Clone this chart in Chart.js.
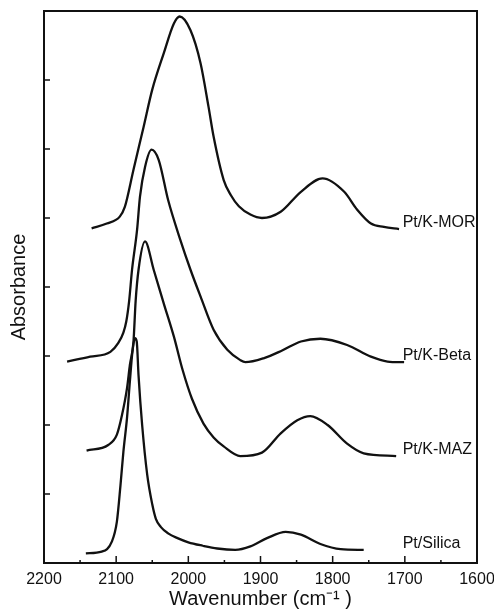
<!DOCTYPE html>
<html>
<head>
<meta charset="utf-8">
<script src="https://cdn.jsdelivr.net/npm/chart.js@4/dist/chart.umd.min.js"></script>
<style>
  html, body { margin: 0; padding: 0; background: #fff; }
  #wrap { width: 494px; height: 609px; position: relative; }
</style>
</head>
<body>
<div id="wrap"><canvas id="c"></canvas></div>
<script>
// ---- Data (wavenumber in cm-1, absorbance in offset units) ----
const seriesNames = ["Pt/K-MOR", "Pt/K-Beta", "Pt/K-MAZ", "Pt/Silica"];

const morWn  = [2134, 2113, 2095, 2088, 2076, 2062, 2050, 2034, 2020, 2012, 1997, 1983, 1972, 1965, 1951, 1941, 1930, 1914, 1898, 1872, 1844, 1814, 1784, 1766, 1747, 1729, 1708];
const morAbs = [4.85, 4.92, 5.02, 5.16, 5.70, 6.32, 6.86, 7.39, 7.82, 7.92, 7.72, 7.24, 6.61, 6.18, 5.55, 5.33, 5.17, 5.05, 5.00, 5.09, 5.38, 5.575, 5.38, 5.12, 4.92, 4.87, 4.84];

const betaWn  = [2168, 2136, 2108, 2097, 2090, 2086, 2082, 2078, 2071, 2067, 2060, 2051, 2041, 2028, 2011, 1997, 1983, 1965, 1946, 1928, 1921, 1895, 1870, 1844, 1817, 1780, 1747, 1724, 1701];
const betaAbs = [2.92, 2.99, 3.06, 3.19, 3.34, 3.50, 3.80, 4.25, 4.83, 5.31, 5.74, 5.99, 5.84, 5.26, 4.68, 4.25, 3.86, 3.38, 3.09, 2.94, 2.91, 2.97, 3.08, 3.21, 3.25, 3.16, 2.99, 2.92, 2.91];

const mazWn  = [2141, 2111, 2099, 2092, 2085, 2081, 2076, 2073, 2069, 2060, 2048, 2034, 2020, 2008, 1995, 1979, 1965, 1951, 1928, 1898, 1872, 1849, 1831, 1807, 1780, 1757, 1712];
const mazAbs = [1.63, 1.71, 1.86, 2.14, 2.53, 2.87, 3.21, 3.80, 4.25, 4.66, 4.25, 3.76, 3.28, 2.80, 2.38, 2.02, 1.82, 1.69, 1.55, 1.60, 1.88, 2.07, 2.13, 2.00, 1.73, 1.59, 1.55];

const silWn  = [2142, 2120, 2106, 2099, 2094, 2090, 2085, 2081, 2077.5, 2074, 2071.5, 2069, 2064, 2057, 2050, 2045, 2038, 2028, 2015, 2000, 1980, 1960, 1935, 1914, 1891, 1865, 1844, 1817, 1789, 1757];
const silAbs = [0.14, 0.165, 0.31, 0.60, 1.13, 1.61, 2.10, 2.63, 3.06, 3.26, 3.21, 2.72, 2.00, 1.28, 0.85, 0.64, 0.52, 0.43, 0.36, 0.30, 0.25, 0.21, 0.19, 0.24, 0.36, 0.45, 0.41, 0.275, 0.20, 0.19];

const xTickValues  = [2200, 2100, 2000, 1900, 1800, 1700, 1600];
const xMinorValues = [2150, 2050, 1950, 1850, 1750, 1650];
const yTickValues  = [1, 2, 3, 4, 5, 6, 7];
const labelWn = 1703;

const xs = [morWn, betaWn, mazWn, silWn];
const ys = [morAbs, betaAbs, mazAbs, silAbs];

const datasets = seriesNames.map((name, i) => ({
  label: name,
  data: xs[i].map((w, j) => ({ x: w, y: ys[i][j] })),
  borderColor: '#111',
  borderWidth: 2.3,
  pointRadius: 0,
  fill: false,
  cubicInterpolationMode: 'monotone'
}));

const framePlugin = {
  id: 'frame',
  afterDatasetsDraw(chart) {
    const { ctx, chartArea: a, scales } = chart;
    const xS = scales.x, yS = scales.y;
    ctx.save();
    ctx.strokeStyle = '#111';
    ctx.lineWidth = 2;
    ctx.strokeRect(a.left, a.top, a.right - a.left, a.bottom - a.top);
    ctx.lineWidth = 1.5;
    ctx.beginPath();
    xTickValues.forEach(v => {
      const px = xS.getPixelForValue(v);
      ctx.moveTo(px, a.bottom); ctx.lineTo(px, a.bottom - 7);
    });
    xMinorValues.forEach(v => {
      const px = xS.getPixelForValue(v);
      ctx.moveTo(px, a.bottom); ctx.lineTo(px, a.bottom - 3);
    });
    yTickValues.forEach(v => {
      const py = yS.getPixelForValue(v);
      ctx.moveTo(a.left, py); ctx.lineTo(a.left + 6, py);
    });
    ctx.stroke();
    // curve labels
    ctx.fillStyle = '#111';
    ctx.font = '16px "Liberation Sans", Arial, sans-serif';
    ctx.textAlign = 'left';
    ctx.textBaseline = 'alphabetic';
    const lx = xS.getPixelForValue(labelWn);
    seriesNames.forEach((name, i) => {
      const last = ys[i][ys[i].length - 1];
      const py = yS.getPixelForValue(last) - 2;
      ctx.fillText(name, lx, py);
    });
    ctx.restore();
  }
};

new Chart(document.getElementById('c'), {
  type: 'line',
  data: { datasets },
  options: {
    responsive: true,
    maintainAspectRatio: false,
    animation: false,
    layout: { padding: { top: 11, right: 17, left: 0, bottom: 0 } },
    plugins: { legend: { display: false }, tooltip: { enabled: false } },
    scales: {
      x: {
        type: 'linear',
        reverse: true,
        min: 1600,
        max: 2200,
        afterBuildTicks: s => { s.ticks = xTickValues.map(v => ({ value: v })); },
        afterFit: s => { s.height = 46; s.paddingLeft = 0; s.paddingRight = 0; },
        grid: { display: false, drawTicks: false },
        border: { display: false },
        ticks: {
          padding: 7,
          color: '#111',
          maxRotation: 0,
          font: { family: '"Liberation Sans", Arial, sans-serif', size: 16 },
          callback: v => String(v)
        },
        title: {
          display: true,
          text: 'Wavenumber (cm\u207B\u00B9 )',
          color: '#111',
          font: { family: '"Liberation Sans", Arial, sans-serif', size: 20, lineHeight: 1 },
          padding: { top: 0, bottom: 0 }
        }
      },
      y: {
        type: 'linear',
        min: 0,
        max: 8,
        afterFit: s => { s.width = 44; },
        grid: { display: false, drawTicks: false },
        border: { display: false },
        ticks: { display: false },
        title: {
          display: true,
          text: 'Absorbance',
          color: '#111',
          font: { family: '"Liberation Sans", Arial, sans-serif', size: 20, lineHeight: 1 },
          padding: { top: 9, bottom: 0 }
        }
      }
    }
  },
  plugins: [framePlugin]
});
</script>
</body>
</html>
